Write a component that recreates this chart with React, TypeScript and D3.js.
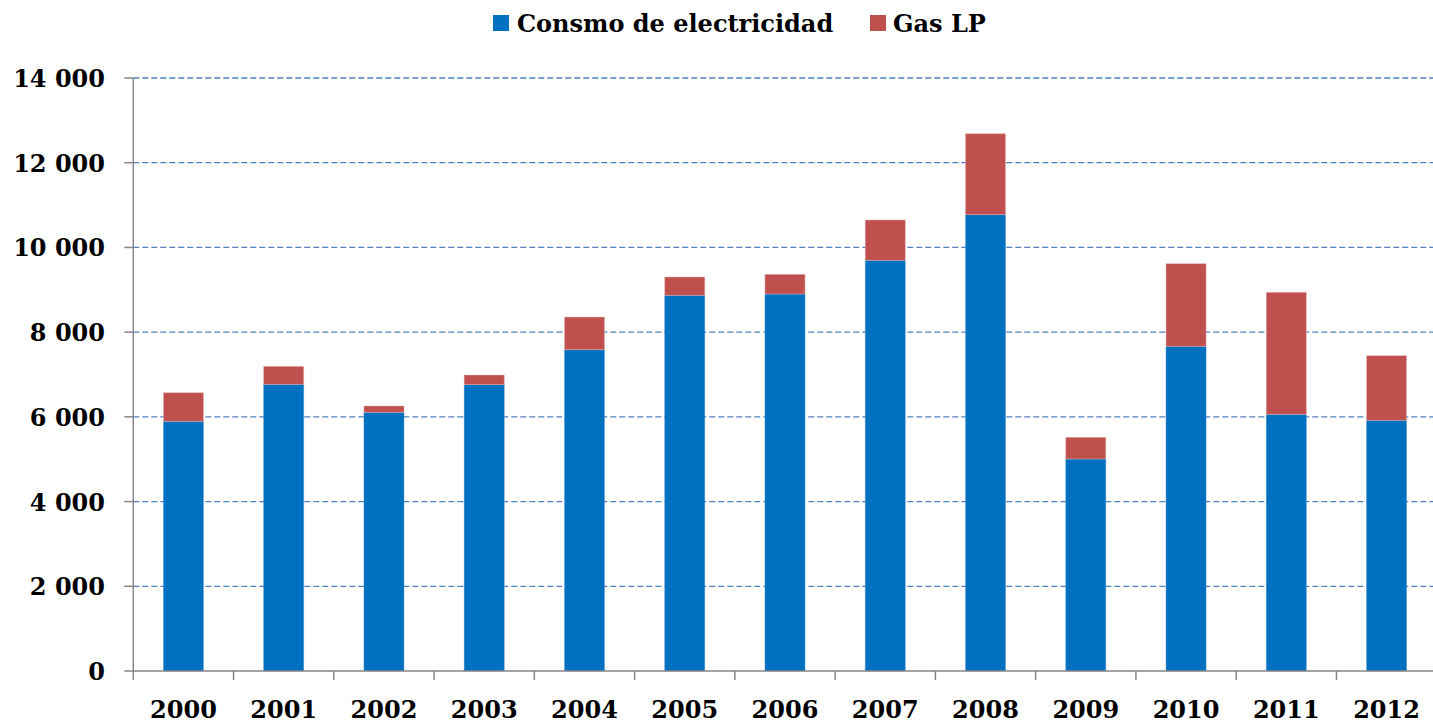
import React from "react";
import * as d3 from "d3";

const years = ["2000", "2001", "2002", "2003", "2004", "2005", "2006", "2007", "2008", "2009", "2010", "2011", "2012"];
const electricidad = [5895, 6768, 6107, 6760, 7586, 8870, 8900, 9696, 10773, 5005, 7666, 6060, 5919];
const gasLP = [675, 425, 149, 228, 771, 432, 465, 952, 1912, 512, 1950, 2881, 1525];
const yTicks = [0, 2000, 4000, 6000, 8000, 10000, 12000, 14000];

const BLUE = "#0070C0";
const RED = "#C0504D";
const FONT = "'DejaVu Serif', serif";

const W = 1433;
const H = 723;
const left = 133.3;
const right = 1436.7;
const top = 78;
const bottom = 671;

const fmt = d3.formatLocale({ decimal: ",", thousands: " ", grouping: [3], currency: ["", ""] }).format(",");

export default function App() {
  const x = d3.scaleBand<string>().domain(years).range([left, right]).paddingInner(0.6).paddingOuter(0.3);
  const y = d3.scaleLinear().domain([0, 14000]).range([bottom, top]);
  const step = x.step();

  return (
    <svg width={W} height={H} style={{ position: "absolute", left: 0, top: 0, background: "#fff" }}>
      {/* gridlines */}
      <g>
        {yTicks.filter(t => t > 0).map(t => (
          <line key={t} x1={left} x2={right} y1={y(t)} y2={y(t)} stroke="#4F81BD" strokeWidth={1.3} strokeDasharray="6 3" />
        ))}
      </g>
      {/* bars */}
      <g>
        {years.map((yr, i) => {
          const e = electricidad[i];
          const g = gasLP[i];
          return (
            <g key={yr}>
              <rect x={x(yr)} y={y(e)} width={x.bandwidth()} height={y(0) - y(e)} fill={BLUE} stroke="#5b9bd5" strokeOpacity={0.5} strokeWidth={0.8} />
              <rect x={x(yr)} y={y(e + g)} width={x.bandwidth()} height={y(e) - y(e + g)} fill={RED} stroke="#e6b9b8" strokeOpacity={0.6} strokeWidth={0.8} />
            </g>
          );
        })}
      </g>
      {/* axes */}
      <g stroke="#868686" strokeWidth={1.5}>
        <line x1={left} x2={left} y1={top} y2={bottom} />
        <line x1={left} x2={right} y1={bottom} y2={bottom} />
        {yTicks.map(t => (
          <line key={t} x1={left - 9} x2={left} y1={y(t)} y2={y(t)} />
        ))}
        {d3.range(years.length + 1).map(i => (
          <line key={i} x1={left + i * step} x2={left + i * step} y1={bottom} y2={bottom + 9} />
        ))}
      </g>
      <g fontFamily={FONT} fontWeight="bold" fontSize={24} fill="#000">
        {yTicks.map(t => (
          <text key={t} x={105} y={y(t) + 9} textAnchor="end">{fmt(t)}</text>
        ))}
        {years.map(yr => (
          <text key={yr} x={(x(yr) as number) + x.bandwidth() / 2} y={718} textAnchor="middle">{yr}</text>
        ))}
      </g>
      {/* legend */}
      <g fontFamily={FONT} fontWeight="bold" fontSize={24} fill="#000">
        <rect x={493} y={15} width={16} height={16} fill={BLUE} />
        <text x={517} y={32}>Consmo de electricidad</text>
        <rect x={870} y={15} width={16} height={16} fill={RED} />
        <text x={893} y={32}>Gas LP</text>
      </g>
    </svg>
  );
}
